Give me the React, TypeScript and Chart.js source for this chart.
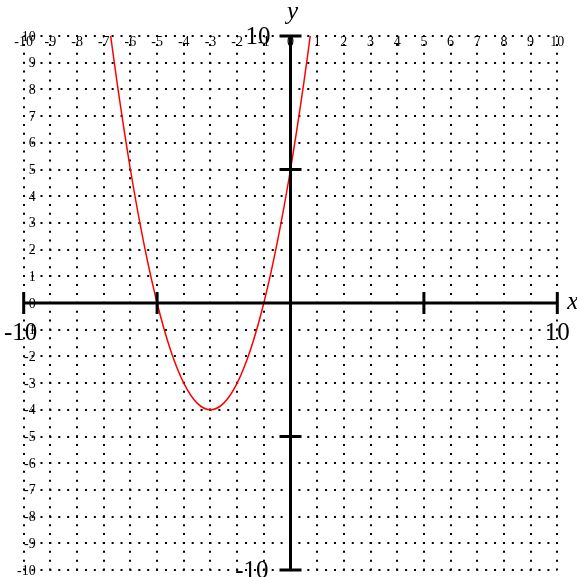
import React, { useEffect, useRef } from "react";
import { Chart, registerables } from "chart.js";

Chart.register(...registerables);

const xTickLabels = ["-10", "-9", "-8", "-7", "-6", "-5", "-4", "-3", "-2", "-1", "0", "1", "2", "3", "4", "5", "6", "7", "8", "9", "10"];
const xTickValues = [-10, -9, -8, -7, -6, -5, -4, -3, -2, -1, 0, 1, 2, 3, 4, 5, 6, 7, 8, 9, 10];
const yTickLabels = ["-10", "-9", "-8", "-7", "-6", "-5", "-4", "-3", "-2", "-1", "0", "1", "2", "3", "4", "5", "6", "7", "8", "9", "10"];
const yTickValues = [-10, -9, -8, -7, -6, -5, -4, -3, -2, -1, 0, 1, 2, 3, 4, 5, 6, 7, 8, 9, 10];
const majorTicks = [-10, -5, 5, 10];

const curveX = [-6.74, -6.5, -6, -5.5, -5, -4.5, -4, -3.5, -3, -2.5, -2, -1.5, -1, -0.5, 0, 0.5, 0.74];
const curveY = [10, 8.25, 5, 2.25, 0, -1.75, -3, -3.75, -4, -3.75, -3, -1.75, 0, 2.25, 5, 8.25, 10];

const SERIF = "'Liberation Serif', 'Times New Roman', serif";

const gridPlugin = {
  id: "dotGrid",
  beforeDatasetsDraw(chart: any) {
    const { ctx, chartArea, scales } = chart;
    const xs = scales.x;
    const ys = scales.y;
    const unit = Math.abs(xs.getPixelForValue(1) - xs.getPixelForValue(0)) / 3;
    ctx.save();
    ctx.strokeStyle = "#000";
    ctx.lineWidth = 2;
    ctx.setLineDash([2, unit - 2]);
    ctx.lineDashOffset = 1;
    xTickValues.forEach((v) => {
      const px = Math.round(xs.getPixelForValue(v));
      ctx.beginPath();
      ctx.moveTo(px, chartArea.top);
      ctx.lineTo(px, chartArea.bottom);
      ctx.stroke();
    });
    yTickValues.forEach((v) => {
      const py = Math.round(ys.getPixelForValue(v));
      ctx.beginPath();
      ctx.moveTo(chartArea.left, py);
      ctx.lineTo(chartArea.right, py);
      ctx.stroke();
    });
    ctx.restore();
  },
  afterDatasetsDraw(chart: any) {
    const { ctx, scales } = chart;
    const xs = scales.x;
    const ys = scales.y;
    const x0 = xs.getPixelForValue(0);
    const y0 = ys.getPixelForValue(0);
    const xL = xs.getPixelForValue(-10);
    const xR = xs.getPixelForValue(10);
    const yT = ys.getPixelForValue(10);
    const yB = ys.getPixelForValue(-10);
    ctx.save();
    ctx.strokeStyle = "#000";
    ctx.lineWidth = 3;
    ctx.setLineDash([]);
    ctx.beginPath();
    ctx.moveTo(xL, y0);
    ctx.lineTo(xR, y0);
    ctx.moveTo(x0, yT);
    ctx.lineTo(x0, yB);
    const tl = 11;
    majorTicks.forEach((v) => {
      const px = xs.getPixelForValue(v);
      ctx.moveTo(px, y0 - tl);
      ctx.lineTo(px, y0 + tl);
      const py = ys.getPixelForValue(v);
      ctx.moveTo(x0 - tl, py);
      ctx.lineTo(x0 + tl, py);
    });
    ctx.stroke();

    ctx.fillStyle = "#000";
    ctx.font = `14px ${SERIF}`;
    ctx.textAlign = "center";
    ctx.textBaseline = "alphabetic";
    xTickValues.forEach((v, i) => {
      ctx.fillText(xTickLabels[i], xs.getPixelForValue(v), yT + 10);
    });
    ctx.textAlign = "right";
    yTickValues.forEach((v, i) => {
      ctx.fillText(yTickLabels[i], xL + 12, ys.getPixelForValue(v) + 4.5);
    });

    ctx.font = `25px ${SERIF}`;
    ctx.textAlign = "center";
    ctx.fillText("-10", xL - 3, y0 + 37);
    ctx.fillText("10", xR, y0 + 37);
    ctx.textAlign = "right";
    ctx.fillText("10", x0 - 20, yT + 8);
    ctx.fillText("-10", x0 - 22, yB + 8);

    ctx.font = `italic 25px ${SERIF}`;
    ctx.textAlign = "left";
    ctx.fillText("x", xR + 10, y0 + 6);
    ctx.textAlign = "center";
    ctx.fillText("y", x0 + 2, yT - 17);
    ctx.restore();
  },
};

export default function App() {
  const ref = useRef<HTMLCanvasElement>(null);
  useEffect(() => {
    if (!ref.current) return;
    const chart = new Chart(ref.current, {
      type: "scatter",
      data: {
        datasets: [
          {
            data: curveX.map((x, i) => ({ x, y: curveY[i] })),
            showLine: true,
            borderColor: "#ff0000",
            borderWidth: 1.5,
            pointRadius: 0,
            cubicInterpolationMode: "monotone",
            fill: false,
          } as any,
        ],
      },
      options: {
        animation: false,
        responsive: false,
        maintainAspectRatio: false,
        layout: { padding: { left: 23.7, right: 19.7, top: 36, bottom: 7 } },
        plugins: { legend: { display: false }, tooltip: { enabled: false } },
        scales: {
          x: { type: "linear", min: -10, max: 10, display: false },
          y: { type: "linear", min: -10, max: 10, display: false },
        },
      },
      plugins: [gridPlugin],
    });
    return () => chart.destroy();
  }, []);
  return (
    <div style={{ position: "fixed", left: 0, top: 0, width: 577, height: 577, background: "#fff" }}>
      <canvas ref={ref} width={577} height={577} style={{ width: 577, height: 577, display: "block" }} />
    </div>
  );
}
